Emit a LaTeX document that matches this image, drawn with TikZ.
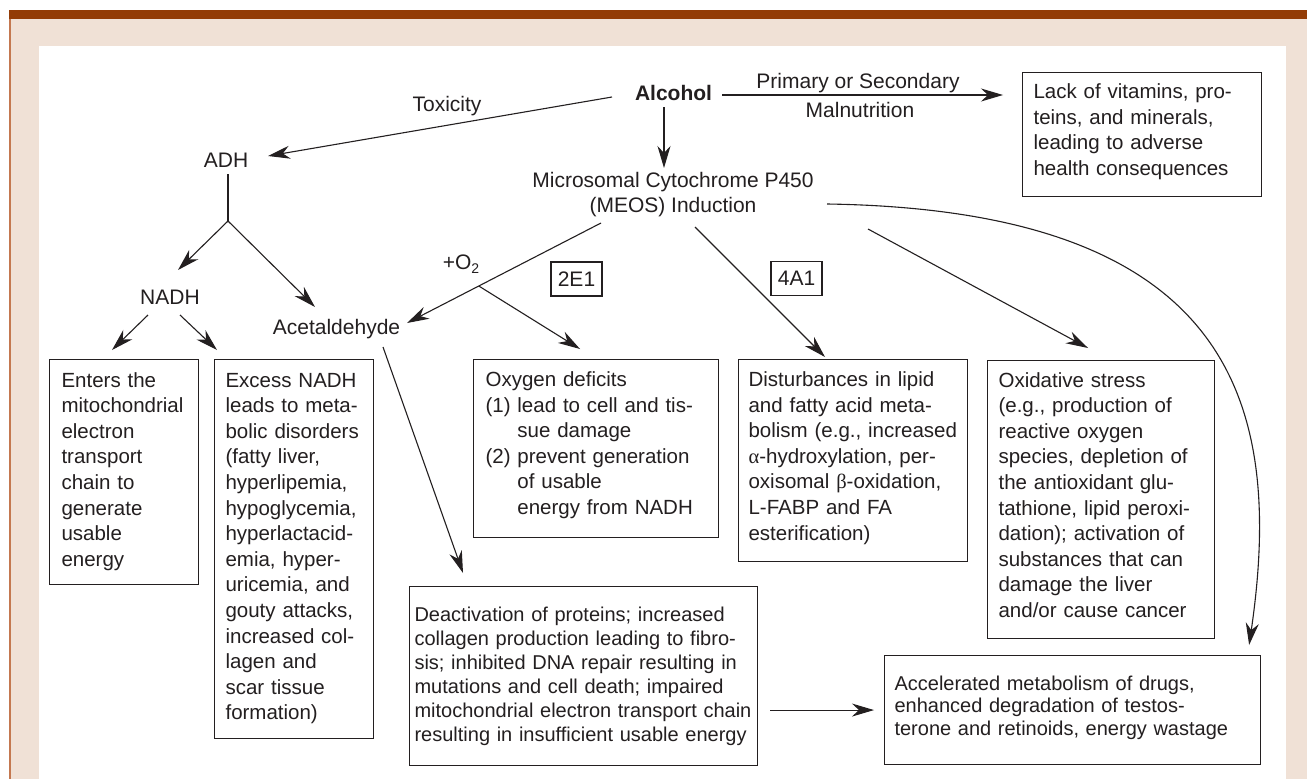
\documentclass[tikz,border=0pt]{standalone}
\usepackage{fontspec}
\setmainfont{Liberation Sans}
\newfontfamily\grk{Liberation Serif}
\usetikzlibrary{arrows.meta,calc}
\definecolor{barc}{HTML}{933C06}
\definecolor{beige}{HTML}{F0E1D6}
\definecolor{edgec}{HTML}{C47850}
\definecolor{ink}{HTML}{231F20}
\newcommand\fmain{\fontsize{20.5}{25.6}\selectfont}
\newcommand\flab{\fontsize{21}{25}\selectfont}
\newcommand\fdeac{\fontsize{20}{24}\selectfont}
\newcommand\facc{\fontsize{20}{22.5}\selectfont}
\tikzset{
  tbox/.style={draw=ink,line width=1.1pt,anchor=north west,inner ysep=0pt,inner xsep=#1,align=left,font=\fmain},
  tbox/.default=11pt,
  lbl/.style={anchor=base,font=\flab},
  tag/.style={draw=ink,line width=1.1pt,minimum width=51pt,minimum height=34pt,font=\flab},
  arr/.style={draw=ink,line width=1.1pt,-{Stealth[length=22pt,width=13pt,inset=7pt]}},
  ln/.style={draw=ink,line width=1.1pt}
}
\begin{document}
\begin{tikzpicture}[x=1pt,y=-1pt,every node/.style={inner sep=0pt,text=ink}]
\useasboundingbox (0,0) rectangle (1307,779);
% background frame
\fill[white] (0,0) rectangle (1307,779);
\fill[beige] (10,19) rectangle (1307,779);
\fill[barc] (9,10) rectangle (1307,19);
\fill[edgec] (9,19) rectangle (11,779);
\fill[white] (39,46) rectangle (1286,779);

% labels
\node[lbl,font=\bfseries\flab] (alc) at (673.5,100.5) {Alcohol};
\node[lbl] (tox) at (447,111.5) {Toxicity};
\node[lbl] (prim) at (858,88.5) {Primary or Secondary};
\node[lbl] (maln) at (860,117.5) {Malnutrition};
\node[lbl] (adh) at (226,167.5) {ADH};
\node[lbl] (nadh) at (170,304.5) {NADH};
\node[lbl] (acet) at (336.5,334.5) {Acetaldehyde};
\node[lbl] (otwo) at (461,269.5) {+O\raisebox{-4pt}{\fontsize{14}{14}\selectfont 2}};
\node[align=center,font=\flab] (meos) at (673,194.5) {Microsomal Cytochrome P450\\(MEOS) Induction};
\node[tag] (e21) at (576.5,279) {2E1};
\node[tag] (a41) at (796.5,278.5) {4A1};

% boxes
\node[tbox=11pt,text width=217pt,text height=26pt,text depth=98pt] (lack) at (1022,72)
 {Lack of vitamins, pro-\\teins, and minerals,\\leading to adverse\\health consequences};
\node[tbox=12pt,text width=125pt,text height=27.5pt,text depth=197.5pt] (enters) at (49,359)
 {Enters the\\mitochondrial\\electron\\transport\\chain to\\generate\\usable\\energy};
\node[tbox=11pt,text width=137pt,text height=27.5pt,text depth=351.5pt] (excess) at (214,359)
 {Excess NADH\\leads to meta-\\bolic disorders\\(fatty liver,\\hyperlipemia,\\hypoglycemia,\\hyperlactacid-\\emia, hyper-\\uricemia, and\\gouty attacks,\\increased col-\\lagen and\\scar tissue\\formation)};
\node[tbox=12pt,text width=221pt,text height=27pt,text depth=151pt] (oxy) at (473,359)
 {Oxygen deficits\\(1) lead to cell and tis-\\\hphantom{(1) }sue damage\\(2) prevent generation\\\hphantom{(2) }of usable\\\hphantom{(2) }energy from NADH};
\node[tbox=10pt,text width=209pt,text height=27pt,text depth=175pt] (dist) at (738,359)
 {Disturbances in lipid\\and fatty acid meta-\\bolism (e.g., increased\\{\grk α}-hydroxylation, per-\\oxisomal {\grk β}-oxidation,\\L-FABP and FA\\esterification)};
\node[tbox=11pt,text width=205pt,text height=26.5pt,text depth=251.5pt] (oxid) at (987,360)
 {Oxidative stress\\(e.g., production of\\reactive oxygen\\species, depletion of\\the antioxidant glu-\\tathione, lipid peroxi-\\dation); activation of\\substances that can\\damage the liver\\and/or cause cancer};
\node[tbox=5pt,font=\fdeac,text width=338pt,text height=34.5pt,text depth=144.5pt] (deac) at (409,586)
 {Deactivation of proteins; increased\\collagen production leading to fibro-\\sis; inhibited DNA repair resulting in\\mutations and cell death; impaired\\mitochondrial electron transport chain\\resulting in insufficient usable energy};
\node[tbox=10pt,font=\facc,text width=356pt,text height=34.5pt,text depth=74.5pt] (acc) at (884,655)
 {Accelerated metabolism of drugs,\\enhanced degradation of testos-\\terone and retinoids, energy wastage};

% connectors
\draw[arr] ($(alc.base)+(-61.5,-3.5)$) -- ($(adh.base)+(42,-11.5)$);
\draw[arr] ($(alc.base)+(48.5,-5.5)$) -- ($(lack.north west)+(-19,23)$);
\draw[arr] ($(alc.base)+(-9.5,6.5)$) -- ($(meos)+(-9,-26.5)$);
\coordinate (split) at ($(adh.base)+(2,53.5)$);
\draw[ln] ($(adh.base)+(2,6.5)$) -- (split);
\draw[arr] (split) -- ($(nadh.base)+(8,-34.5)$);
\draw[arr] (split) -- ($(acet.base)+(-21.5,-27.5)$);
\draw[arr] ($(nadh.base)+(-22,10.5)$) -- ($(enters.north west)+(63,-9)$);
\draw[arr] ($(nadh.base)+(10,10.5)$) -- ($(excess.north west)+(3,-9)$);
\draw[arr] ($(meos)+(-72,28.5)$) -- coordinate[pos=0.63] (osplit) ($(acet.base)+(70.5,-11.5)$);
\draw[arr] (osplit) -- ($(oxy.north west)+(107,-10)$);
\draw[arr] ($(meos)+(22,32.5)$) -- ($(dist.north west)+(87,-2)$);
\draw[arr] ($(meos)+(195,34.5)$) -- ($(oxid.north west)+(101,-12)$);
\draw[arr] ($(acet.base)+(46.5,12.5)$) -- ($(deac.north west)+(54,-13)$);
\draw[arr] ([xshift=12pt]deac.east |- acc.west) -- ([xshift=-10pt]acc.west);
\draw[arr] ($(meos)+(154,9.5)$) .. controls (1230,210) and (1285,400) .. ($(acc.north east)+(-12,-10)$);
\end{tikzpicture}
\end{document}
